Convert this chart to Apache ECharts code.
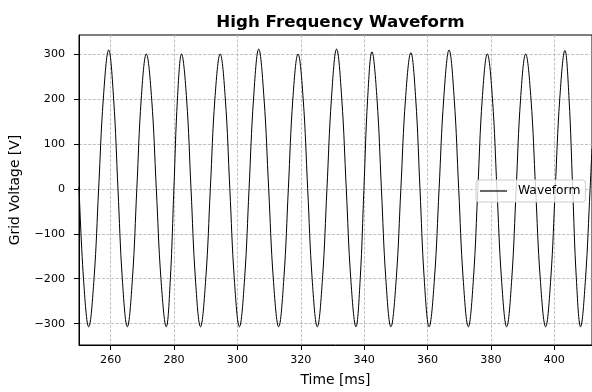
<!DOCTYPE html>
<html>
<head>
<meta charset="utf-8">
<script src="https://cdn.jsdelivr.net/npm/echarts@6/dist/echarts.min.js"></script>
<style>
html,body{margin:0;padding:0;background:#fff;}
#chart{width:592px;height:392px;}
</style>
</head>
<body>
<div id="chart"></div>
<script>
// Points of the waveform: peaks, troughs, zero crossings and ±200 V gridline crossings
const timeMs = [
  250, 251.42, 253.06, 254.74, 256.2, 257.67, 259.36, 260.93, 262.3, 263.67,
  265.25, 266.86, 268.25, 269.64, 271.24, 272.93, 274.4, 275.86, 277.54, 278.83,
  279.95, 281.07, 282.36, 283.96, 285.35, 286.74, 288.34, 290.01, 291.45, 292.89,
  294.55, 296.18, 297.6, 299.01, 300.63, 302.26, 303.67, 305.08, 306.71, 308.40,
  309.86, 311.32, 313.01, 314.65, 316.07, 317.49, 319.12, 320.75, 322.17, 323.58,
  325.21, 326.84, 328.25, 329.66, 331.29, 332.93, 334.35, 335.77, 337.40, 338.75,
  339.92, 341.09, 342.44, 344.05, 345.44, 346.83, 348.43, 350.12, 351.58, 353.04,
  354.73, 356.27, 357.61, 358.95, 360.49, 362.18, 363.64, 365.10, 366.79, 368.42,
  369.83, 371.24, 372.87, 374.48, 375.87, 377.26, 378.86, 380.49, 381.9, 383.33,
  384.97, 386.58, 387.97, 389.36, 390.96, 392.64, 394.1, 395.57, 397.26, 398.89,
  400.3, 401.72, 403.35, 404.66, 405.8, 406.96, 408.29, 409.85, 411.3, 411.9];
const voltage = [
  5, -200, -307, -200, 0, 200, 309, 200, 0, -200,
  -307, -200, 0, 200, 300, 200, 0, -200, -307, -200,
  0, 200, 300, 200, 0, -200, -307, -200, 0, 200,
  300, 200, 0, -200, -307, -200, 0, 200, 311, 200,
  0, -200, -307, -200, 0, 200, 300, 200, 0, -200,
  -307, -200, 0, 200, 311, 200, 0, -200, -307, -200,
  0, 200, 305, 200, 0, -200, -307, -200, 0, 200,
  303, 200, 0, -200, -307, -200, 0, 200, 309, 200,
  0, -200, -307, -200, 0, 200, 300, 200, 0, -200,
  -307, -200, 0, 200, 300, 200, 0, -200, -307, -200,
  0, 200, 308, 200, 0, -200, -307, -200, 0, 90];
const xTicks = [260, 280, 300, 320, 340, 360, 380, 400];
const yTicks = [-300, -200, -100, 0, 100, 200, 300];
const seriesName = 'Waveform';

const FONT = 'DejaVu Sans';
const chart = echarts.init(document.getElementById('chart'), null, {renderer: 'canvas'});
const gridLine = {show: true, lineStyle: {color: '#b0b0b0', type: [3, 1.6], width: 0.8}};
chart.setOption({
  animation: false,
  backgroundColor: '#fff',
  title: {
    text: 'High Frequency Waveform', left: 335.5, top: 9, textAlign: 'center',
    textStyle: {fontFamily: FONT, fontWeight: 'bold', fontSize: 16.7, color: '#000'}
  },
  grid: {left: 79, right: -1, top: 35, bottom: 42, show: true, borderColor: '#000', borderWidth: 1},
  legend: {
    data: [seriesName], left: 476, top: 180, orient: 'vertical',
    padding: [5, 5, 5, 4], backgroundColor: 'rgba(255,255,255,0.8)',
    borderColor: '#cccccc', borderWidth: 1, borderRadius: 3,
    icon: 'rect', itemWidth: 27, itemHeight: 1.2,
    textStyle: {fontFamily: FONT, fontSize: 12.3, color: '#000', padding: [0, 0, 0, 6]}
  },
  xAxis: {
    type: 'value', min: 250, max: 411.9,
    name: 'Time [ms]', nameLocation: 'middle', nameGap: 28,
    nameTextStyle: {fontFamily: FONT, fontSize: 13.9, color: '#000'},
    axisLine: {show: true, onZero: false, lineStyle: {color: '#000', width: 1}},
    axisTick: {show: true, length: 5, customValues: xTicks, lineStyle: {color: '#000', width: 1}},
    axisLabel: {customValues: xTicks, margin: 10, fontFamily: FONT, fontSize: 11.1, color: '#000'},
    splitLine: gridLine
  },
  yAxis: {
    type: 'value', min: -347.5, max: 342.3,
    name: 'Grid Voltage [V]', nameLocation: 'middle', nameGap: 57,
    nameTextStyle: {fontFamily: FONT, fontSize: 13.9, color: '#000'},
    axisLine: {show: true, onZero: false, lineStyle: {color: '#000', width: 1}},
    axisTick: {show: true, length: 5, customValues: yTicks, lineStyle: {color: '#000', width: 1}},
    axisLabel: {customValues: yTicks, margin: 14, fontFamily: FONT, fontSize: 11.1, color: '#000',
      formatter: v => String(v).replace('-', '\u2212')},
    splitLine: gridLine
  },
  series: [{
    name: seriesName, type: 'line', showSymbol: false, symbol: 'none', smooth: 0.4,
    data: timeMs.map((t, i) => [t, voltage[i]]),
    lineStyle: {color: '#000', width: 1}, itemStyle: {color: '#000'}
  }]
});
</script>
</body>
</html>
